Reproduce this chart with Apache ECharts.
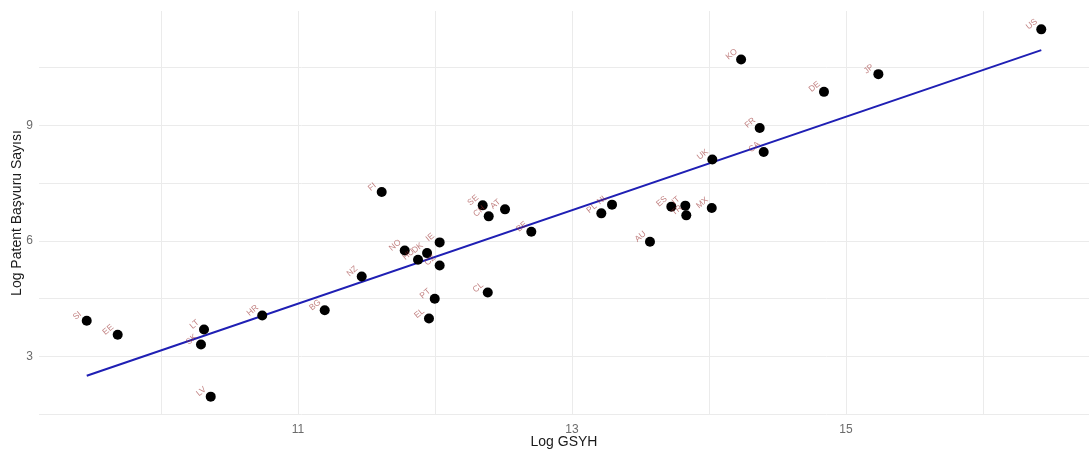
<!DOCTYPE html>
<html>
<head>
<meta charset="utf-8">
<script src="https://cdn.jsdelivr.net/npm/echarts@6/dist/echarts.min.js"></script>
<style>
  html, body { margin: 0; padding: 0; background: #ffffff; }
  #chart { width: 1089px; height: 460px; }
</style>
</head>
<body>
<div id="chart"></div>
<script>
// Country codes with log GDP (x) and log patent applications (y)
const countries = ['SI','EE','LT','SK','LV','HR','BG','NZ','FI','NO','HU','DK','IE','CZ','PT','EL','CL','SE','CH','AT','BE','PL','NL','AU','ES','IT','TR','MX','UK','KO','FR','CA','DE','JP','US'];
const logGdp = [9.458, 9.684, 10.314, 10.292, 10.363, 10.739, 11.195, 11.465, 11.611, 11.779, 11.876, 11.942, 12.034, 12.034, 11.998, 11.956, 12.385, 12.348, 12.392, 12.511, 12.703, 13.214, 13.292, 13.569, 13.725, 13.827, 13.834, 14.020, 14.024, 14.234, 14.370, 14.399, 14.839, 15.236, 16.425];
const logPatents = [3.927, 3.564, 3.701, 3.312, 1.961, 4.065, 4.203, 5.078, 7.268, 5.753, 5.512, 5.683, 5.961, 5.364, 4.499, 3.987, 4.662, 6.922, 6.636, 6.818, 6.239, 6.714, 6.940, 5.979, 6.888, 6.914, 6.662, 6.852, 8.109, 10.706, 8.930, 8.306, 9.865, 10.325, 11.486];

// Tick labels and grid positions
const xTickLabels = [11, 13, 15];
const xGridValues = [10, 11, 12, 13, 14, 15, 16];
const yTickLabels = [3, 6, 9];
const yGridValues = [1.5, 3, 4.5, 6, 7.5, 9, 10.5];

// Ordinary least squares fit of logPatents on logGdp
const n = logGdp.length;
const mx = logGdp.reduce((a, b) => a + b, 0) / n;
const my = logPatents.reduce((a, b) => a + b, 0) / n;
let sxy = 0, sxx = 0;
for (let i = 0; i < n; i++) {
  sxy += (logGdp[i] - mx) * (logPatents[i] - my);
  sxx += (logGdp[i] - mx) * (logGdp[i] - mx);
}
const slope = sxy / sxx;
const intercept = my - slope * mx;
const xMin = Math.min(...logGdp), xMax = Math.max(...logGdp);
const yMin = Math.min(...logPatents), yMax = Math.max(...logPatents);
const fitLine = [[xMin, intercept + slope * xMin], [xMax, intercept + slope * xMax]];

// 5% padding on each side of the data range
const xPad = (xMax - xMin) * 0.05;
const yPad = (yMax - yMin) * 0.05;

const points = countries.map((c, i) => ({ name: c, value: [logGdp[i], logPatents[i]] }));

const chart = echarts.init(document.getElementById('chart'), null, { renderer: 'canvas' });
chart.setOption({
  animation: false,
  backgroundColor: '#ffffff',
  textStyle: { fontFamily: 'Liberation Sans, Arial, sans-serif' },
  grid: { left: 39, right: 0, top: 11, bottom: 45, containLabel: false, outerBoundsMode: 'none' },
  xAxis: {
    type: 'value',
    min: xMin - xPad,
    max: xMax + xPad,
    name: 'Log GSYH',
    nameLocation: 'middle',
    nameGap: 20,
    nameMoveOverlap: false,
    nameTextStyle: { color: '#1a1a1a', fontSize: 14 },
    axisLine: { show: false },
    axisTick: { show: false, customValues: xGridValues },
    axisLabel: { customValues: xTickLabels, color: '#6b6b6b', fontSize: 12, margin: 9 },
    splitLine: { show: true, lineStyle: { color: '#ebebeb', width: 1 } }
  },
  yAxis: {
    type: 'value',
    min: yMin - yPad,
    max: yMax + yPad,
    name: 'Log Patent Başvuru Sayısı',
    nameLocation: 'middle',
    nameGap: 15,
    nameMoveOverlap: false,
    nameTextStyle: { color: '#1a1a1a', fontSize: 14 },
    axisLine: { show: false },
    axisTick: { show: false, customValues: yGridValues },
    axisLabel: { customValues: yTickLabels, color: '#6b6b6b', fontSize: 12, margin: 6 },
    splitLine: { show: true, lineStyle: { color: '#ebebeb', width: 1 } }
  },
  series: [
    {
      type: 'line',
      data: fitLine,
      showSymbol: false,
      silent: true,
      z: 2,
      lineStyle: { color: '#1f1fb4', width: 2 }
    },
    {
      type: 'scatter',
      data: points,
      symbol: 'circle',
      symbolSize: 10,
      z: 3,
      itemStyle: { color: '#000000', opacity: 1 },
      label: {
        show: true,
        formatter: p => p.name,
        position: 'inside',
        offset: [-4, -10],
        rotate: 40,
        fontSize: 8.5,
        color: 'rgba(150,40,40,0.6)'
      }
    }
  ]
});
</script>
</body>
</html>
